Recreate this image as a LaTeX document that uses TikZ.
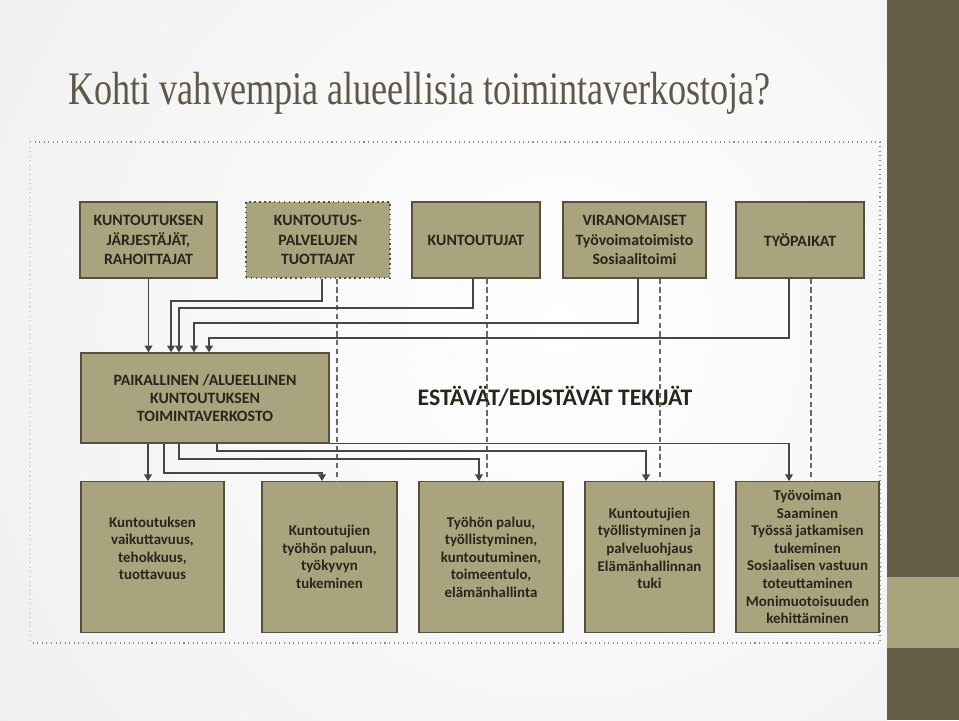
\documentclass[tikz,border=0pt]{standalone}
\usepackage{fontspec}
\setsansfont{Carlito}
\newfontfamily\titlefont{Liberation Serif}
\usetikzlibrary{arrows.meta}
\definecolor{boxfill}{RGB}{169,164,125}
\definecolor{boxline}{RGB}{85,80,64}
\definecolor{boxtext}{RGB}{40,38,28}
\definecolor{linkcol}{RGB}{70,70,70}
\definecolor{guidecol}{RGB}{105,105,105}
\definecolor{framecol}{RGB}{140,140,140}
\definecolor{stripdark}{RGB}{103,94,74}
\definecolor{titlecol}{RGB}{94,88,72}

\begin{document}
\begin{tikzpicture}[x=0.02cm, y=-0.02cm,
  box/.style={draw=boxline, fill=boxfill, line width=0.8pt, align=center, inner sep=0pt, text=boxtext, font=\sffamily\bfseries\fontsize{9}{11}\selectfont},
  hub/.style={box, font=\sffamily\bfseries\fontsize{9}{10.4}\selectfont},
  goal/.style={box, minimum height=3.01cm, font=\sffamily\bfseries\fontsize{8.5}{10}\selectfont},
  link/.style={draw=linkcol, line width=0.7pt, -{Triangle[length=3.8pt,width=4.4pt]}},
  guide/.style={draw=guidecol, line width=0.6pt, dash pattern=on 3pt off 2pt}]

\useasboundingbox (0,0) rectangle (959,720);

% Slide background
\fill[white] (0,0) rectangle (959,720);
\begin{scope}
  \clip (0,0) rectangle (887,720);
  \shade[inner color=white, outer color=black!9] (560,330) circle (1000);
\end{scope}
\fill[stripdark] (887,0) rectangle (959,720);
\fill[boxfill] (887,577) rectangle (959,648);

% Title
\node[anchor=base west, inner sep=0pt, text=titlecol] (title) at (68,104)
  {\scalebox{0.777}[1]{\titlefont\fontsize{26.5}{30}\selectfont Kohti vahvempia alueellisia toimintaverkostoja?}};

% Frame
\draw[framecol, dotted, line width=0.6pt] (30,142) -- (880,142) -- (880,643) -- (30,643);
\draw[black!18, dotted, line width=0.6pt] (30,142) -- (30,643);

% Actors
\node[box, minimum width=2.74cm, minimum height=1.52cm] (b1) at (148.5,240) {KUNTOUTUKSEN\\JÄRJESTÄJÄT,\\RAHOITTAJAT};
\node[box, minimum width=2.88cm, minimum height=1.52cm, dotted] (b2) at (318,240) {KUNTOUTUS-\\PALVELUJEN\\TUOTTAJAT};
\node[box, minimum width=2.56cm, minimum height=1.52cm] (b3) at (476,240) {KUNTOUTUJAT};
\node[box, minimum width=2.86cm, minimum height=1.52cm] (b4) at (634.5,240) {VIRANOMAISET\\Työvoimatoimisto\\Sosiaalitoimi};
\node[box, minimum width=2.56cm, minimum height=1.52cm] (b5) at (800,240) {TYÖPAIKAT};

% Network
\node[hub, minimum width=4.96cm, minimum height=1.8cm] (m) at (205,398) {PAIKALLINEN /ALUEELLINEN\\KUNTOUTUKSEN\\TOIMINTAVERKOSTO};
\node[text=boxtext, font=\sffamily\bfseries\fontsize{13.5}{15}\selectfont] (factors) at (555,396) {ESTÄVÄT/EDISTÄVÄT TEKIJÄT};

% Goals
\node[goal, minimum width=2.86cm] (c1) at (152.5,557) {Kuntoutuksen\\vaikuttavuus,\\tehokkuus,\\tuottavuus\\ \mbox{}};
\node[goal, minimum width=2.70cm] (c2) at (329.5,557) {Kuntoutujien\\työhön paluun,\\työkyvyn\\tukeminen};
\node[goal, minimum width=2.88cm] (c3) at (491,557) {Työhön paluu,\\työllistyminen,\\kuntoutuminen,\\toimeentulo,\\elämänhallinta};
\node[goal, minimum width=2.58cm] (c4) at (649.5,557) {Kuntoutujien\\työllistyminen ja\\palveluohjaus\\Elämänhallinnan\\tuki\\ \mbox{}};
\node[goal, minimum width=2.86cm] (c5) at (807.5,557) {Työvoiman\\Saaminen\\Työssä jatkamisen\\tukeminen\\Sosiaalisen vastuun\\toteuttaminen\\Monimuotoisuuden\\kehittäminen};

% Dashed guides
\foreach \x/\a/\b in {337/b2/c2, 487/b3/c3, 660/b4/c4, 811/b5/c5}
  \draw[guide] (\x,0 |- \a.south) -- (\x,0 |- \b.north);

% Actors to network
\draw[link] (b1.south) -- (b1.south |- m.north);
\foreach \a/\xa/\ya/\xb in {b2/322/301/171, b3/473/308/179, b4/638/323/194, b5/789/338/209}
  \draw[link] (\xa,0 |- \a.south) -- (\xa,\ya) -- (\xb,\ya) -- (\xb,0 |- m.north);

% Network to goals
\draw[link] (148,0 |- m.south) -- (148,0 |- c1.north);
\foreach \xa/\ya/\xb/\c in {164/473/322/c2, 179/459/479/c3, 217/451/646/c4}
  \draw[link] (\xa,0 |- m.south) -- (\xa,\ya) -- (\xb,\ya) -- (\xb,0 |- \c.north);
\draw[link] (m.south east) -- (789,0 |- m.south) -- (789,0 |- c5.north);

\end{tikzpicture}
\end{document}
